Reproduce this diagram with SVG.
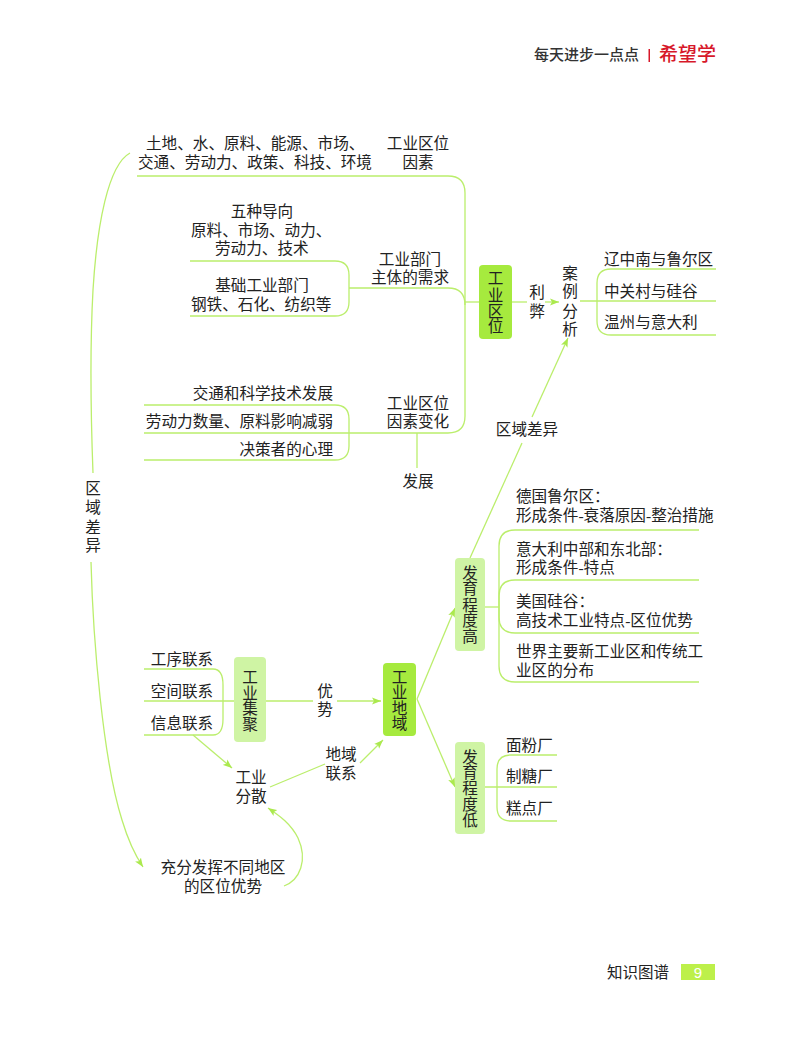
<svg xmlns="http://www.w3.org/2000/svg" width="800" height="1040" viewBox="0 0 800 1040">
<style>
text{font-family:"Liberation Serif","Noto Sans CJK SC",serif;font-size:15.6px;fill:#222}
.m{text-anchor:middle}
.e{text-anchor:end}
.hd{font-family:"Liberation Sans","Noto Sans CJK SC",sans-serif}
.c path,.c line{fill:none;stroke:#bbee6c;stroke-width:1.300}
.bright{fill:#a6ea3e}
.pale{fill:#cff4a4}
</style>
<defs>
<marker id="a" markerUnits="userSpaceOnUse" markerWidth="10" markerHeight="8" refX="9" refY="4" orient="auto"><path d="M0 0.500L9 4L0 7.500L2 4Z" fill="#abe94e"/></marker>
</defs>
<rect width="800" height="1040" fill="#fff"/>
<g id="connectors" class="c">
<path d="M130 153C108 165 97 225 93 290C90 345 91 420 93 473"/>
<path d="M91 562C93 640 103 760 122 820C128 840 135 855 143 867" marker-end="url(#a)"/>
<path d="M137 176H448Q465 176 465 193V416Q465 433 448 433H144"/>
<path d="M190 261H335Q349 261 349 275V302Q349 316 335 316H190"/>
<path d="M349 288H448Q465 288 465 305"/>
<path d="M144 405H335Q349 405 349 419V446Q349 460 335 460H144"/>
<line x1="417" y1="433" x2="417" y2="468"/>
<line x1="465" y1="302" x2="479" y2="302"/>
<line x1="512" y1="302" x2="527" y2="302"/>
<path d="M545 302H559" marker-end="url(#a)"/>
<line x1="580" y1="301" x2="716" y2="301"/>
<path d="M716 269H611Q597 269 597 283V321Q597 335 611 335H716"/>
<line x1="470" y1="558" x2="522" y2="443"/>
<path d="M532 417L568 338" marker-end="url(#a)"/>
<path d="M417 699L455 608" marker-end="url(#a)"/>
<path d="M417 699L455 787" marker-end="url(#a)"/>
<path d="M699 530H515Q499 530 499 546V666Q499 682 515 682H699"/>
<path d="M699 580H515Q499 580 499 596V617Q499 633 515 633H699"/>
<line x1="485" y1="607" x2="499" y2="607"/>
<path d="M557 755H511Q497 755 497 769V807Q497 821 511 821H557"/>
<line x1="485" y1="787" x2="557" y2="787"/>
<path d="M144 669H213Q223 669 223 685V719Q223 735 213 735H144"/>
<line x1="144" y1="701" x2="234" y2="701"/>
<line x1="266" y1="701" x2="313" y2="701"/>
<path d="M337 701H381" marker-end="url(#a)"/>
<path d="M193 735L232 768" marker-end="url(#a)"/>
<line x1="270" y1="787" x2="325" y2="764"/>
<path d="M360 763L383 740" marker-end="url(#a)"/>
<path d="M284 886C300 880 308 860 298 838C291 824 280 816 268 808" marker-end="url(#a)"/>
</g>
<g id="n-factors">
<text x="146" y="148.500">土地、水、原料、能源、市场、</text>
<text x="138" y="167.500">交通、劳动力、政策、科技、环境</text>
<text class="m" x="418" y="148.500">工业区位</text>
<text class="m" x="418" y="167.500">因素</text>
</g>
<g id="n-orient">
<text class="m" x="262" y="216.500">五种导向</text>
<text x="191" y="235.500">原料、市场、动力、</text>
<text x="215" y="253.500">劳动力、技术</text>
</g>
<g id="n-basic">
<text class="m" x="262" y="290.500">基础工业部门</text>
<text x="191" y="309.500">钢铁、石化、纺织等</text>
</g>
<g id="n-demand">
<text class="m" x="410" y="264.500">工业部门</text>
<text class="m" x="410" y="282.500">主体的需求</text>
</g>
<g id="n-change-items">
<text class="e" x="333" y="398.500">交通和科学技术发展</text>
<text class="e" x="333" y="426.500">劳动力数量、原料影响减弱</text>
<text class="e" x="333" y="454.500">决策者的心理</text>
</g>
<g id="n-change">
<text class="m" x="418" y="408.500">工业区位</text>
<text class="m" x="418" y="426.500">因素变化</text>
</g>
<g id="n-develop"><text class="m" x="418" y="486.500">发展</text></g>
<g id="n-region-diff-v">
<text class="m" x="93" y="493.500">区</text>
<text class="m" x="93" y="512.500">域</text>
<text class="m" x="93" y="532.500">差</text>
<text class="m" x="93" y="550.500">异</text>
</g>
<g id="n-location">
<rect class="bright" x="479" y="265" width="33" height="74" rx="4"/>
<text class="m" x="495.500" y="284">工</text>
<text class="m" x="495.500" y="300.500">业</text>
<text class="m" x="495.500" y="316.500">区</text>
<text class="m" x="495.500" y="332">位</text>
</g>
<g id="n-libi">
<text class="m" x="537" y="297.500">利</text>
<text class="m" x="537" y="316.500">弊</text>
</g>
<g id="n-case">
<text class="m" x="570" y="278.500">案</text>
<text class="m" x="570" y="296.500">例</text>
<text class="m" x="570" y="316.500">分</text>
<text class="m" x="570" y="334.500">析</text>
</g>
<g id="n-cases">
<text x="604" y="264.500">辽中南与鲁尔区</text>
<text x="604" y="296.500">中关村与硅谷</text>
<text x="604" y="327.500">温州与意大利</text>
</g>
<g id="n-region-diff"><text class="m" x="527" y="434.500">区域差异</text></g>
<g id="n-high">
<rect class="pale" x="455" y="558" width="30" height="93" rx="4"/>
<text class="m" x="470" y="578.500">发</text>
<text class="m" x="470" y="594">育</text>
<text class="m" x="470" y="610.500">程</text>
<text class="m" x="470" y="626">度</text>
<text class="m" x="470" y="641.500">高</text>
</g>
<g id="n-high-items">
<text x="516" y="501.500">德国鲁尔区：</text>
<text x="516" y="520.500">形成条件-衰落原因-整治措施</text>
<text x="516" y="554.500">意大利中部和东北部：</text>
<text x="516" y="572.500">形成条件-特点</text>
<text x="516" y="606.500">美国硅谷：</text>
<text x="516" y="625.500">高技术工业特点-区位优势</text>
<text x="516" y="656.500">世界主要新工业区和传统工</text>
<text x="516" y="675.500">业区的分布</text>
</g>
<g id="n-low">
<rect class="pale" x="455" y="742" width="30" height="92" rx="4"/>
<text class="m" x="470" y="762.500">发</text>
<text class="m" x="470" y="778">育</text>
<text class="m" x="470" y="793.500">程</text>
<text class="m" x="470" y="809.500">度</text>
<text class="m" x="470" y="825.500">低</text>
</g>
<g id="n-low-items">
<text x="506" y="750.500">面粉厂</text>
<text x="506" y="781.500">制糖厂</text>
<text x="506" y="813.500">糕点厂</text>
</g>
<g id="n-region">
<rect class="bright" x="383" y="663" width="33" height="73" rx="4"/>
<text class="m" x="399.500" y="682.500">工</text>
<text class="m" x="399.500" y="698">业</text>
<text class="m" x="399.500" y="713.500">地</text>
<text class="m" x="399.500" y="729">域</text>
</g>
<g id="n-links">
<text class="m" x="182" y="664.500">工序联系</text>
<text class="m" x="182" y="696.500">空间联系</text>
<text class="m" x="182" y="728.500">信息联系</text>
</g>
<g id="n-cluster">
<rect class="pale" x="234" y="657" width="32" height="85" rx="4"/>
<text class="m" x="250" y="682.500">工</text>
<text class="m" x="250" y="698.500">业</text>
<text class="m" x="250" y="714">集</text>
<text class="m" x="250" y="729.500">聚</text>
</g>
<g id="n-advantage">
<text class="m" x="325" y="696.500">优</text>
<text class="m" x="325" y="714.500">势</text>
</g>
<g id="n-disperse">
<text class="m" x="251" y="782.500">工业</text>
<text class="m" x="251" y="801.500">分散</text>
</g>
<g id="n-link">
<text class="m" x="341" y="759.500">地域</text>
<text class="m" x="341" y="778.500">联系</text>
</g>
<g id="n-full">
<text class="m" x="223" y="872.500">充分发挥不同地区</text>
<text class="m" x="223" y="891.500">的区位优势</text>
</g>
<g id="header">
<text class="hd" x="534" y="60" style="font-size:15px;font-weight:500;fill:#333">每天进步一点点</text>
<rect x="648.500" y="49" width="1.500" height="13" fill="#d7182a"/>
<text class="hd" x="659" y="61" style="font-size:19px;font-weight:500;fill:#d7182a">希望学</text>
</g>
<g id="footer">
<text class="hd" x="607" y="978" style="font-size:15.500px">知识图谱</text>
<rect x="681" y="964" width="34" height="16" fill="#bdf04a"/>
<text class="m hd" x="698" y="978" style="font-size:15px;fill:#fff">9</text>
</g>
</svg>
